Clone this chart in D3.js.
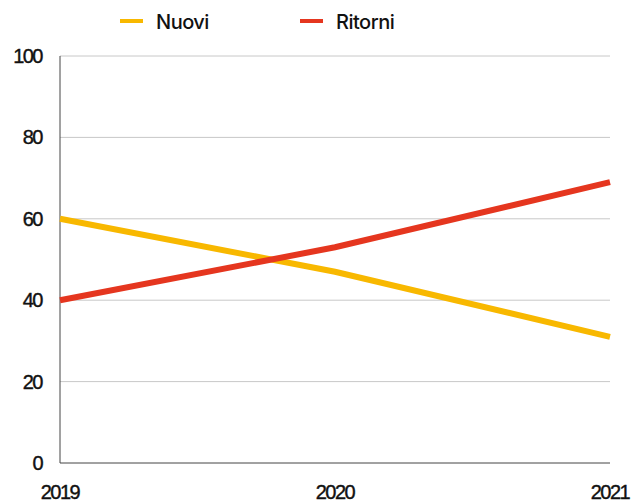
<!DOCTYPE html>
<html>
<head>
<meta charset="utf-8">
<script src="https://cdn.jsdelivr.net/npm/d3@7"></script>
<style>
  body { margin: 0; background: #fff; }
  .tick-label { font-family: "Liberation Sans", Arial, sans-serif; font-size: 20px; letter-spacing: -1.5px; fill: #111; stroke: #111; stroke-width: 0.4px; }
  .legend-label { font-family: Inter, "Noto Sans", sans-serif; font-size: 20px; font-weight: 500; letter-spacing: -0.5px; fill: #111; }
</style>
</head>
<body>
<div id="chart"></div>
<script>
// Data
const years = [2019, 2020, 2021];
const nuovi = [60, 47, 31];
const ritorni = [40, 53, 69];
const yTicks = [0, 20, 40, 60, 80, 100];
const seriesNames = ["Nuovi", "Ritorni"];
const seriesColors = ["#F8B800", "#E5361F"];

const W = 633, H = 502;
const margin = { top: 56, right: 23, bottom: 39, left: 60 };
const width = W - margin.left - margin.right;
const height = H - margin.top - margin.bottom;

const svg = d3.select("#chart")
  .append("svg")
  .attr("width", W)
  .attr("height", H);

const g = svg.append("g")
  .attr("transform", `translate(${margin.left},${margin.top})`);

const x = d3.scaleLinear().domain([2019, 2021]).range([0, width]);
const y = d3.scaleLinear().domain([0, 100]).range([height, 0]);

// Gridlines
g.selectAll(".grid")
  .data(yTicks.filter(d => d > 0))
  .enter()
  .append("line")
  .attr("class", "grid")
  .attr("x1", 0)
  .attr("x2", width)
  .attr("y1", d => y(d))
  .attr("y2", d => y(d))
  .attr("stroke", "#c8c8c8")
  .attr("stroke-width", 1);

// Axis lines
g.append("line")
  .attr("x1", 0).attr("x2", 0)
  .attr("y1", y(100)).attr("y2", y(0))
  .attr("stroke", "#444").attr("stroke-width", 1);

g.append("line")
  .attr("x1", 0).attr("x2", width)
  .attr("y1", y(0)).attr("y2", y(0))
  .attr("stroke", "#444").attr("stroke-width", 1);

// Y tick labels
g.selectAll(".ylab")
  .data(yTicks)
  .enter()
  .append("text")
  .attr("class", "tick-label")
  .attr("x", -18)
  .attr("y", d => y(d) + 7)
  .attr("text-anchor", "end")
  .text(d => d);

// X tick labels
g.selectAll(".xlab")
  .data(years)
  .enter()
  .append("text")
  .attr("class", "tick-label")
  .attr("x", d => x(d))
  .attr("y", height + 36)
  .attr("text-anchor", "middle")
  .text(d => d);

// Lines
const line = d3.line()
  .x((d, i) => x(years[i]))
  .y(d => y(d));

[nuovi, ritorni].forEach((vals, i) => {
  g.append("path")
    .datum(vals)
    .attr("fill", "none")
    .attr("stroke", seriesColors[i])
    .attr("stroke-width", 6)
    .attr("d", line);
});

// Legend
const legendX = [120, 300];
seriesNames.forEach((name, i) => {
  const lg = svg.append("g").attr("transform", `translate(${legendX[i]}, 21)`);
  lg.append("line")
    .attr("x1", 0).attr("x2", 23)
    .attr("y1", 0).attr("y2", 0)
    .attr("stroke", seriesColors[i])
    .attr("stroke-width", 4);
  lg.append("text")
    .attr("class", "legend-label")
    .attr("x", 36)
    .attr("y", 8)
    .text(name);
});
</script>
</body>
</html>
